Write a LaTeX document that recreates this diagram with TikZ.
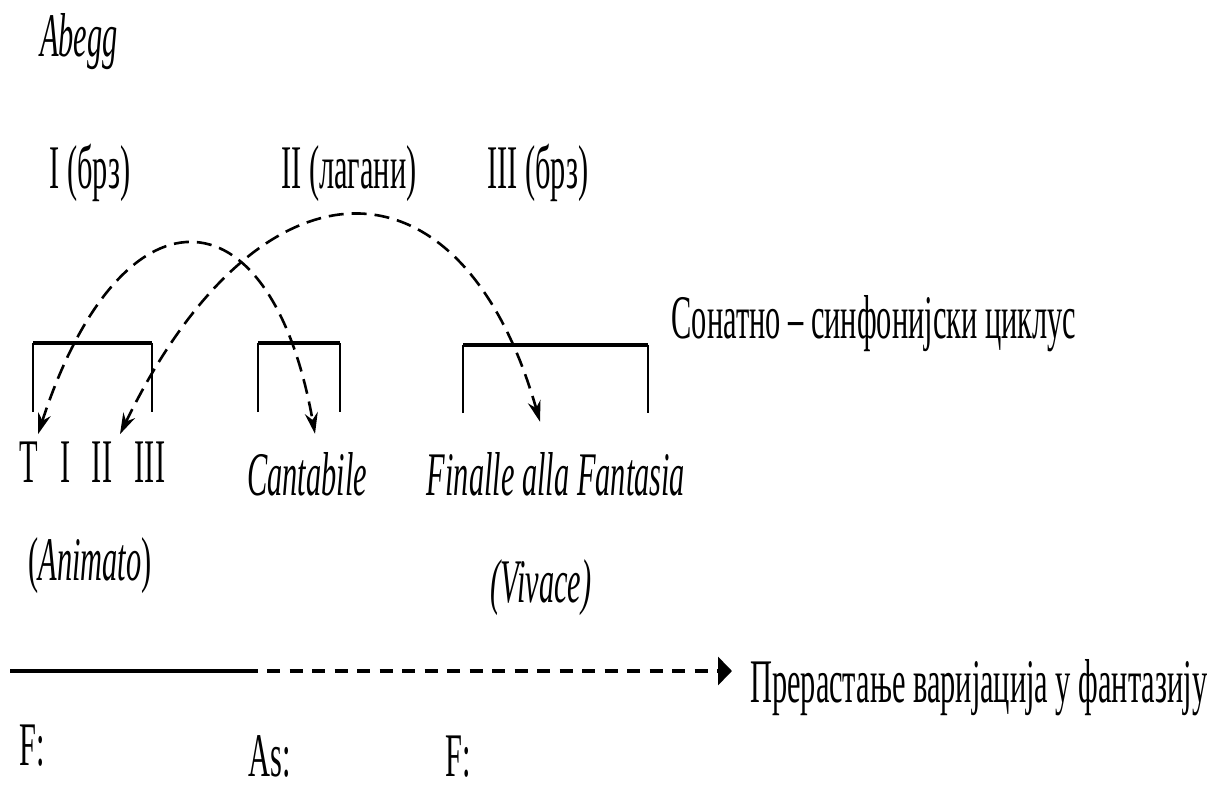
\documentclass[tikz,border=0pt]{standalone}
\usepackage{fontspec}
\setmainfont{Liberation Serif}[FakeStretch=0.49]
\usetikzlibrary{arrows.meta, positioning}
\tikzset{
  lbl/.style={inner sep=0pt, anchor=base, font=\fontsize{62}{66}\selectfont},
  ital/.style={inner sep=0pt, anchor=base, font=\fontsize{62}{66}\selectfont\itshape},
  bracket/.style={line width=2pt},
  brackettop/.style={line width=4pt},
  linkarc/.style={dash pattern=on 15pt off 8pt, line width=2.6pt,
    {Stealth[length=21pt,width=13pt]}-{Stealth[length=21pt,width=13pt]}},
  growline/.style={line width=4pt},
  growdash/.style={line width=4pt, dash pattern=on 13pt off 9.5pt,
    -{Triangle[length=14pt,width=28pt]}},
}
\begin{document}
\begin{tikzpicture}[x=1pt,y=-1pt]
  \useasboundingbox (0,0) rectangle (1207,789);
  % titles
  \node[ital] (abegg) at (79,57) {Abegg};
  \node[lbl] (mvI) at (90,188) {I (брз)};
  \node[lbl] (mvII) at (349,188) {II (лагани)};
  \node[lbl] (mvIII) at (538,188) {III (брз)};
  \node[lbl] (cycle) at (874,338) {Сонатно – синфонијски циклус};
  % brackets
  \draw[bracket] (33,412) -- (33,343) (152,343) -- (152,412);
  \draw[brackettop] (33,343) -- (152,343);
  \draw[bracket] (258,412) -- (258,343) (340,343) -- (340,412);
  \draw[brackettop] (258,343) -- (340,343);
  \draw[bracket] (463,413) -- (463,345) (648,345) -- (648,413);
  \draw[brackettop] (463,345) -- (648,345);
  % movements
  \node[lbl] (nT) at (29,482) {T};
  \node[lbl] (nI) at (66,482) {I};
  \node[lbl] (nII) at (102,482) {II};
  \node[lbl] (nIII) at (150,482) {III};
  \node[ital] (cant) at (307,495) {Cantabile};
  \node[ital] (finalle) at (556,495) {Finalle alla Fantasia};
  \node[lbl] (animato) at (90,580) {(\textit{Animato})};
  \node[ital] (vivace) at (541,602) {(Vivace)};
  % arcs
  \draw[linkarc] ([xshift=9pt,yshift=7pt]nT.north) .. controls (120,182) and (270,182) .. ([xshift=8pt,yshift=18pt]cant.north);
  \draw[linkarc] ([xshift=18pt,yshift=7pt]nII.north) .. controls (260,146) and (461,146) .. ([xshift=-16pt,yshift=30pt]finalle.north);
  % growth line
  \node[lbl,anchor=base west] (grow) at (750,702) {Прерастање варијација у фантазију};
  \coordinate (gstart) at (10,671);
  \coordinate (gmid) at (258,671);
  \draw[growline] (gstart) -- (gmid);
  \draw[growdash] ([xshift=9pt]gmid) -- ([xshift=-18pt]grow.west |- gmid);
  % keys
  \node[lbl] (keyF) at (32,765) {F:};
  \node[lbl] (keyAs) at (270,776) {As:};
  \node[lbl] (keyFF) at (458,776) {F:};
\end{tikzpicture}
\end{document}
